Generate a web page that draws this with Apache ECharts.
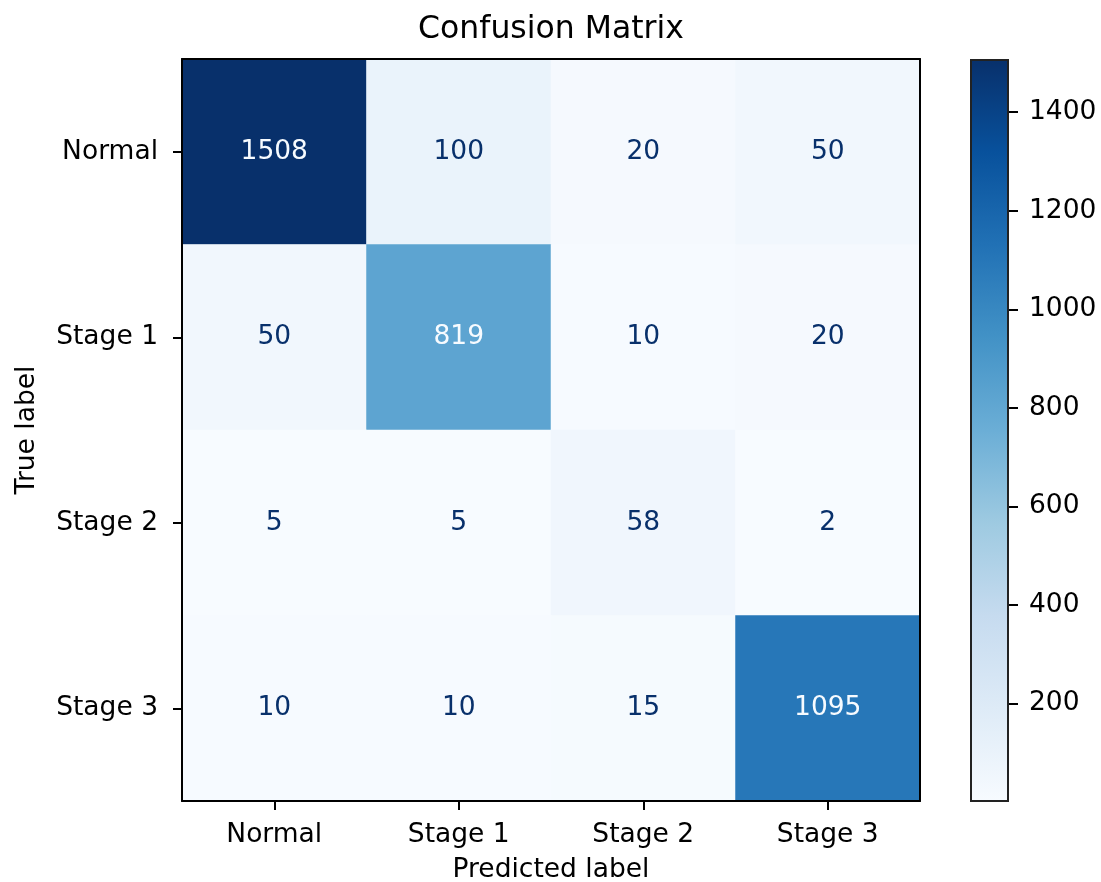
<!DOCTYPE html>
<html>
<head>
  <meta charset="utf-8">
</head>
<body style="margin: 0; background: #fff">
  <div id="container" style="width: 1101px; height: 882px"></div>

  <script type="text/javascript" src="https://fastly.jsdelivr.net/npm/echarts@6/dist/echarts.min.js"></script>
  <script type="text/javascript">
    var labels = ['Normal', 'Stage 1', 'Stage 2', 'Stage 3'];
    var rowNormal = [1508, 100, 20, 50];
    var rowStage1 = [50, 819, 10, 20];
    var rowStage2 = [5, 5, 58, 2];
    var rowStage3 = [10, 10, 15, 1095];
    var rows = [rowNormal, rowStage1, rowStage2, rowStage3];
    var cbarTicks = [200, 400, 600, 800, 1000, 1200, 1400];
    var blues = ['#f7fbff', '#deebf7', '#c6dbef', '#9ecae1', '#6baed6',
                 '#4292c6', '#2171b5', '#08519c', '#08306b'];

    var vmin = Infinity, vmax = -Infinity;
    rows.forEach(function (r) {
      r.forEach(function (v) { vmin = Math.min(vmin, v); vmax = Math.max(vmax, v); });
    });
    var thresh = (vmin + vmax) / 2;

    var cells = [];
    rows.forEach(function (r, i) {
      r.forEach(function (v, j) {
        cells.push({
          value: [j, i, v],
          label: { color: v < thresh ? blues[8] : blues[0] }
        });
      });
    });

    var font = 'DejaVu Sans';
    var fs = 26.5;

    var dom = document.getElementById('container');
    var myChart = echarts.init(dom, null, { renderer: 'canvas' });
    var option = {
      animation: false,
      title: {
        text: 'Confusion Matrix',
        left: 551,
        textAlign: 'center',
        top: 14,
        padding: 0,
        textStyle: { fontFamily: font, fontSize: 31.5, fontWeight: 'normal', color: '#000' }
      },
      grid: [
        { left: 182, top: 59, width: 738, height: 742, containLabel: false, outerBoundsMode: 'none' },
        { left: 970, top: 59, width: 39, height: 742, containLabel: false, outerBoundsMode: 'none' }
      ],
      xAxis: [
        {
          gridIndex: 0, type: 'category', data: labels, position: 'bottom', z: 10,
          name: 'Predicted label', nameLocation: 'middle', nameGap: 56,
          nameTextStyle: { fontFamily: font, fontSize: fs, color: '#000' },
          axisLine: { lineStyle: { color: '#000', width: 2 } },
          axisTick: { show: true, alignWithLabel: true, length: 9, lineStyle: { color: '#000', width: 2 } },
          axisLabel: { fontFamily: font, fontSize: fs, color: '#000', margin: 21 },
          splitArea: { show: false }, splitLine: { show: false }
        },
        {
          gridIndex: 0, type: 'category', data: labels, position: 'top', z: 10,
          axisLine: { lineStyle: { color: '#000', width: 2 } },
          axisTick: { show: false }, axisLabel: { show: false }
        },
        {
          gridIndex: 1, type: 'category', data: [''], show: false
        }
      ],
      yAxis: [
        {
          gridIndex: 0, type: 'category', data: labels, inverse: true, position: 'left', z: 10,
          name: 'True label', nameLocation: 'middle', nameGap: 141, nameRotate: 90,
          nameTextStyle: { fontFamily: font, fontSize: fs, color: '#000' },
          axisLine: { lineStyle: { color: '#000', width: 2 } },
          axisTick: { show: true, alignWithLabel: true, length: 9, lineStyle: { color: '#000', width: 2 } },
          axisLabel: { fontFamily: font, fontSize: fs, color: '#000', margin: 24, padding: [4, 0, 0, 0] },
          splitArea: { show: false }, splitLine: { show: false }
        },
        {
          gridIndex: 0, type: 'category', data: labels, inverse: true, position: 'right', z: 10,
          axisLine: { lineStyle: { color: '#000', width: 2 } },
          axisTick: { show: false }, axisLabel: { show: false }
        },
        {
          gridIndex: 1, type: 'value', position: 'right', min: vmin, max: vmax,
          axisLine: { show: false },
          splitLine: { show: false },
          axisTick: { show: true, length: 9, customValues: cbarTicks, lineStyle: { color: '#000', width: 2 } },
          axisLabel: {
            customValues: cbarTicks, fontFamily: font, fontSize: fs, color: '#000', margin: 20,
            formatter: function (v) { return String(v); }
          }
        }
      ],
      visualMap: {
        show: false,
        type: 'continuous',
        min: vmin,
        max: vmax,
        dimension: 2,
        seriesIndex: 0,
        inRange: { color: blues }
      },
      series: [
        {
          type: 'heatmap',
          xAxisIndex: 0,
          yAxisIndex: 0,
          data: cells,
          label: { show: true, fontFamily: font, fontSize: fs,
            formatter: function (p) { return p.value[2]; } },
          itemStyle: { borderWidth: 0 },
          emphasis: { disabled: true }
        },
        {
          type: 'bar',
          xAxisIndex: 2,
          yAxisIndex: 2,
          data: [vmax],
          barWidth: '100%',
          itemStyle: {
            borderColor: '#222',
            borderWidth: 2,
            color: new echarts.graphic.LinearGradient(0, 1, 0, 0, blues.map(function (c, i) {
              return { offset: i / (blues.length - 1), color: c };
            }))
          }
        }
      ]
    };
    myChart.setOption(option);
    window.addEventListener('resize', myChart.resize);
  </script>
</body>
</html>
